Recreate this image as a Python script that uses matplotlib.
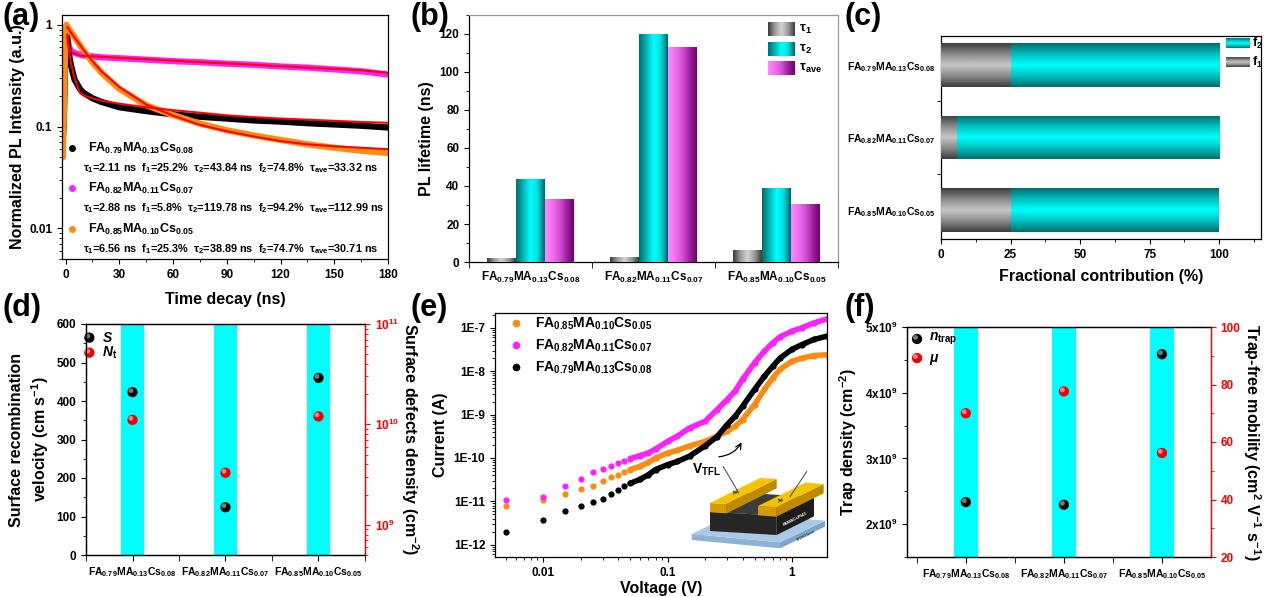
import numpy as np
import matplotlib
matplotlib.use('Agg')
import matplotlib.pyplot as plt
from matplotlib.colors import LinearSegmentedColormap
from matplotlib.patches import Polygon
from matplotlib.lines import Line2D
from matplotlib.ticker import MultipleLocator, FuncFormatter, LogLocator, NullFormatter, FixedLocator
from matplotlib.transforms import offset_copy

plt.rcParams['font.family'] = ['Liberation Sans', 'DejaVu Sans']
plt.rcParams['font.weight'] = 'bold'
plt.rcParams['axes.labelweight'] = 'bold'
plt.rcParams['mathtext.fontset'] = 'custom'
plt.rcParams['mathtext.rm'] = 'Liberation Sans:bold'
plt.rcParams['mathtext.it'] = 'Liberation Sans:italic:bold'
plt.rcParams['mathtext.bf'] = 'Liberation Sans:bold'
plt.rcParams['mathtext.default'] = 'regular'
plt.rcParams['xtick.direction'] = 'out'
plt.rcParams['ytick.direction'] = 'out'
plt.rcParams['xtick.labelsize'] = 8.5
plt.rcParams['ytick.labelsize'] = 8.5
plt.rcParams['axes.linewidth'] = 0.9

# ---------------- data ----------------
comp = ['FA$_{0.79}$MA$_{0.13}$Cs$_{0.08}$',
        'FA$_{0.82}$MA$_{0.11}$Cs$_{0.07}$',
        'FA$_{0.85}$MA$_{0.10}$Cs$_{0.05}$']

# (a) TRPL decays
t_ns = [-1.5, -1, -0.5, 0, 0.5, 1, 2, 3, 5, 8, 10, 15, 20, 30, 45, 60, 75, 90,
        105, 120, 135, 150, 165, 180]
pl_079 = [0.08, 0.1, 0.3, 0.8, 0.9, 0.7, 0.5, 0.4, 0.29, 0.235, 0.215, 0.19, 0.175,
          0.155, 0.142, 0.132, 0.125, 0.12, 0.115, 0.112, 0.108, 0.105, 0.102, 0.098]
pl_082 = [0.1, 0.15, 0.4, 0.85, 0.95, 0.75, 0.6, 0.56, 0.53, 0.51, 0.5, 0.49, 0.48,
          0.47, 0.455, 0.44, 0.43, 0.415, 0.405, 0.39, 0.38, 0.365, 0.35, 0.325]
pl_085 = [0.05, 0.12, 0.35, 0.85, 1.0, 0.97, 0.9, 0.85, 0.76, 0.63, 0.56, 0.43, 0.34,
          0.235, 0.162, 0.13, 0.107, 0.092, 0.082, 0.074, 0.067, 0.062, 0.058, 0.055]
t_fit = [1, 2, 3, 5, 8, 10, 15, 20, 30, 45, 60, 75, 90, 105, 120, 135, 150, 165, 180]
fit_079 = [0.75, 0.55, 0.42, 0.3, 0.215, 0.203, 0.19, 0.18, 0.168, 0.155, 0.145, 0.137,
           0.129, 0.124, 0.12, 0.117, 0.114, 0.111, 0.109]
fit_082 = [0.8, 0.6, 0.55, 0.52, 0.5, 0.495, 0.49, 0.485, 0.475, 0.46, 0.445, 0.43,
           0.418, 0.405, 0.393, 0.38, 0.37, 0.358, 0.338]
fit_085 = [0.95, 0.9, 0.84, 0.75, 0.64, 0.57, 0.44, 0.35, 0.245, 0.165, 0.128, 0.104,
           0.09, 0.08, 0.072, 0.067, 0.064, 0.062, 0.06]

# (b), (c) fit parameters
tau1 = [2.11, 2.88, 6.56]
tau2 = [43.84, 119.78, 38.89]
tau_ave = [33.32, 112.99, 30.71]
f1 = [25.2, 5.8, 25.3]
f2 = [74.8, 94.2, 74.7]

# (d)
S = [423, 124, 460]
Nt = [1.11e10, 3.3e9, 1.2e10]

# (e) SCLC
voltage = [0.005, 0.01, 0.015, 0.02, 0.025, 0.03, 0.035, 0.04, 0.045, 0.05, 0.06, 0.07,
           0.08, 0.1, 0.12, 0.15, 0.2, 0.25, 0.3, 0.35, 0.4, 0.5, 0.6, 0.7, 0.8, 1.0,
           1.2, 1.5, 1.9]
I_079 = [2.0e-12, 3.8e-12, 6.1e-12, 7.9e-12, 9.5e-12, 1.13e-11, 1.5e-11, 1.85e-11,
         2.2e-11, 2.6e-11, 3.2e-11, 4.1e-11, 5.4e-11, 7.0e-11, 8.3e-11, 1.1e-10,
         1.9e-10, 3.1e-10, 5.8e-10, 9.2e-10, 1.55e-9, 3.8e-9, 7.7e-9, 1.3e-8, 2.0e-8,
         3.2e-8, 4.1e-8, 5.4e-8, 6.4e-8]
I_082 = [1.1e-11, 1.26e-11, 2.2e-11, 3.2e-11, 4.7e-11, 5.6e-11, 6.6e-11, 7.7e-11,
         8.7e-11, 9.7e-11, 1.13e-10, 1.3e-10, 1.6e-10, 2.4e-10, 3.2e-10, 4.9e-10,
         7.0e-10, 1.3e-9, 2.2e-9, 3.5e-9, 6.5e-9, 1.56e-8, 2.9e-8, 4.5e-8, 6.2e-8,
         8.4e-8, 1.0e-7, 1.3e-7, 1.6e-7]
I_085 = [7.7e-12, 1.1e-11, 1.5e-11, 1.93e-11, 2.2e-11, 3.0e-11, 3.6e-11, 4.1e-11,
         4.8e-11, 5.4e-11, 6.4e-11, 7.9e-11, 1.0e-10, 1.3e-10, 1.5e-10, 1.9e-10,
         2.4e-10, 3.2e-10, 4.1e-10, 5.4e-10, 7.7e-10, 1.7e-9, 3.8e-9, 7.0e-9, 1.1e-8,
         1.7e-8, 2.0e-8, 2.3e-8, 2.4e-8]

# (f)
n_trap = [2.335e9, 2.295e9, 4.585e9]
mu = [70.0, 77.6, 56.2]

BLACK, MAGENTA, ORANGE = '#000000', '#ff22ff', '#ff8c10'
CYAN = '#00ffff'
gray_grad = ['#3a3a3a', '#9a9a9a', '#d4d4d4', '#9a9a9a', '#3a3a3a']
teal_grad = ['#006c6c', '#00b4b4', '#00ffff', '#00dede', '#006464']
mag_grad = ['#ff88ff', '#f070f0', '#d650d6', '#a020a0', '#6e006e']


def grad_rect(ax, x0, y0, w, h, colors, along='x', transform=None, clip=None, z=3):
    cmap = LinearSegmentedColormap.from_list('g', colors)
    g = np.linspace(0, 1, 128)
    img = g.reshape(1, -1) if along == 'x' else g.reshape(-1, 1)
    kw = {} if transform is None else {'transform': transform}
    im = ax.imshow(img, cmap=cmap, extent=[x0, x0 + w, y0, y0 + h], origin='lower',
                   aspect='auto', interpolation='bicubic', zorder=z, **kw)
    if clip is not None:
        im.set_clip_path(clip)
    return im


def sphere(ax, x, y, base, light, s=55, transform=None, clip=True):
    tr = ax.transData if transform is None else transform
    ax.scatter(x, y, s=s, color=base, edgecolors='none', transform=tr, zorder=5,
               clip_on=clip)
    ax.scatter(x, y, s=s * 0.22, color=light, edgecolors='none', alpha=0.75,
               transform=offset_copy(tr, fig=ax.figure, x=-1.1, y=1.1, units='points'),
               zorder=6, clip_on=clip)


def px_axes(fig, l, r, t, b):
    W, H = 1267, 597
    return fig.add_axes([l / W, 1 - b / H, (r - l) / W, (b - t) / H])


fig = plt.figure(figsize=(12.67, 5.97), dpi=100)

# ---------------- (a) ----------------
ax = px_axes(fig, 62, 388, 15, 259)
ax.plot(t_ns, pl_082, color=MAGENTA, lw=4.5, solid_capstyle='round')
ax.plot(t_ns, pl_079, color=BLACK, lw=4.5, solid_capstyle='round')
ax.plot(t_ns, pl_085, color=ORANGE, lw=4.5, solid_capstyle='round')
for f in (fit_082, fit_079, fit_085):
    ax.plot(t_fit, f, color='red', lw=1.5)
ax.set_yscale('log')
ax.set_ylim(0.005, 1.25)
ax.set_xlim(-2, 180)
ax.xaxis.set_major_locator(MultipleLocator(30))
ax.xaxis.set_minor_locator(MultipleLocator(15))
ax.yaxis.set_major_formatter(FuncFormatter(lambda v, p: f'{v:g}'))
ax.yaxis.set_minor_formatter(NullFormatter())
ax.set_xlabel('Time decay (ns)', fontsize=11.5, labelpad=8)
ax.set_ylabel('Normalized PL Intensity (a.u.)', fontsize=11.5, labelpad=3)
rows = [0.455, 0.291, 0.123]
for i, c in enumerate([BLACK, MAGENTA, ORANGE]):
    ax.plot([0.031], [rows[i]], 'o', color=c, ms=4, transform=ax.transAxes)
    ax.text(0.08, rows[i], comp[i], transform=ax.transAxes, fontsize=9, va='center')
    s = (f'τ$_1$={tau1[i]} ns  f$_1$={f1[i]}%  τ$_2$={tau2[i]} ns  '
         f'f$_2$={f2[i]}%  τ$_{{ave}}$={tau_ave[i]} ns')
    ax.text(0.065, rows[i] - 0.082, s, transform=ax.transAxes, fontsize=7.8, va='center')

# ---------------- (b) ----------------
ax = px_axes(fig, 469, 838, 15, 262)
x = np.arange(3)
w = 0.235
for vals, off, grad in ((tau1, -w, gray_grad), (tau2, 0, teal_grad), (tau_ave, w, mag_grad)):
    bars = ax.bar(x + off, vals, width=w, color='none', edgecolor='none')
    for b in bars:
        grad_rect(ax, b.get_x(), b.get_y(), b.get_width(), b.get_height(), grad, clip=b)
ax.set_xticks(x)
ax.set_xticklabels(comp, fontsize=8.5)
ax.tick_params(axis='x', which='major', length=0, pad=6)
ax.xaxis.set_minor_locator(FixedLocator([-0.5, 0.5, 1.5, 2.5]))
ax.tick_params(axis='x', which='minor', length=4)
ax.yaxis.set_major_locator(MultipleLocator(20))
ax.yaxis.set_minor_locator(MultipleLocator(10))
ax.set_ylabel('PL lifetime (ns)', fontsize=11.5)
for sp in ('top', 'right'):
    ax.spines[sp].set_color('#999999')
leg_y = [0.941, 0.862, 0.783]
for lab, yy, grad in zip(['τ$_1$', 'τ$_2$', 'τ$_{ave}$'], leg_y, [gray_grad, teal_grad, mag_grad]):
    grad_rect(ax, 0.81, yy - 0.027, 0.073, 0.054, grad, transform=ax.transAxes, z=4)
    ax.text(0.893, yy, lab, transform=ax.transAxes, fontsize=9.5, va='center')
ax.set_xlim(-0.5, 2.5)
ax.set_ylim(0, 130)

# ---------------- (c) ----------------
ax = px_axes(fig, 941, 1261, 36, 239)
yc = np.array([2, 1, 0])
h = 0.6
gray_h = ['#3c3c3c', '#8a8a8a', '#c8c8c8', '#8a8a8a', '#3c3c3c']
cyan_h = ['#006e6e', '#00c0c0', '#00ffff', '#00c0c0', '#006e6e']
bars1 = ax.barh(yc, f1, height=h, color='none', edgecolor='none')
bars2 = ax.barh(yc, f2, left=f1, height=h, color='none', edgecolor='none')
for b in bars1:
    grad_rect(ax, b.get_x(), b.get_y(), b.get_width(), b.get_height(), gray_h, along='y', clip=b)
for b in bars2:
    grad_rect(ax, b.get_x(), b.get_y(), b.get_width(), b.get_height(), cyan_h, along='y', clip=b)
ax.set_yticks(yc)
ax.set_yticklabels(comp, fontsize=7.5)
ax.tick_params(axis='y', which='major', length=0, pad=4)
ax.yaxis.set_minor_locator(FixedLocator([0.5, 1.5]))
ax.tick_params(axis='y', which='minor', length=3)
ax.xaxis.set_major_locator(MultipleLocator(25))
ax.xaxis.set_minor_locator(MultipleLocator(12.5))
ax.set_xlabel('Fractional contribution (%)', fontsize=11.5, labelpad=6)
for lab, yy, grad in (('f$_2$', 0.963, cyan_h), ('f$_1$', 0.869, gray_h)):
    grad_rect(ax, 0.891, yy - 0.024, 0.075, 0.048, grad, along='y',
              transform=ax.transAxes, z=4)
    ax.text(0.971, yy, lab, transform=ax.transAxes, fontsize=9, va='center', zorder=7)
ax.set_xlim(0, 115)
ax.set_ylim(-0.4, 2.4)

# ---------------- (d) ----------------
ax = px_axes(fig, 86, 365, 324, 555)
for xi in x:
    ax.axvspan(xi - 0.12, xi + 0.12, color=CYAN, lw=0, zorder=0)
ax.set_xlim(-0.5, 2.5)
ax.set_ylim(0, 600)
ax.set_xticks(x)
ax.set_xticklabels(comp, fontsize=7.5)
ax.xaxis.set_minor_locator(FixedLocator([-0.5, 0.5, 1.5, 2.5]))
ax.tick_params(axis='x', which='both', length=4)
ax.yaxis.set_major_locator(MultipleLocator(100))
ax.yaxis.set_minor_locator(MultipleLocator(50))
ax.set_ylabel('Surface recombination\nvelocity (cm s$^{-1}$)', fontsize=11.5, linespacing=1.3)
sphere(ax, x, S, '#050505', '#a0a0a0')
ax2 = ax.twinx()
ax2.set_yscale('log')
ax2.set_ylim(5e8, 1e11)
sphere(ax2, x, Nt, '#ee0000', '#ffb0b0')
ax2.spines['right'].set_color('red')
ax2.tick_params(axis='y', which='both', colors='red', labelsize=8.5)
ax2.yaxis.set_minor_formatter(NullFormatter())
ax2.set_ylabel('Surface defects density (cm$^{-2}$)', fontsize=11.5, rotation=270, labelpad=16)
sphere(ax, [0.012], [0.941], '#050505', '#a0a0a0', transform=ax.transAxes, clip=False)
sphere(ax, [0.012], [0.876], '#ee0000', '#ffb0b0', transform=ax.transAxes, clip=False)
ax.text(0.057, 0.941, r'$\it{S}$', transform=ax.transAxes, fontsize=10, va='center')
ax.text(0.057, 0.876, r'$\it{N}_{\rm t}$', transform=ax.transAxes, fontsize=10, va='center')

# ---------------- (e) ----------------
ax = px_axes(fig, 495, 827, 313, 557)
for I, c in ((I_085, ORANGE), (I_082, MAGENTA), (I_079, BLACK)):
    ax.plot(voltage[9:], I[9:], color=c, lw=4, solid_capstyle='round')
    ax.plot(voltage, I, 'o', color=c, ms=4.5, mec='none')
ax.set_xscale('log')
ax.set_yscale('log')
ax.set_xlim(0.0041, 1.91)
ax.set_ylim(5.2e-13, 2.2e-7)
ax.yaxis.set_major_locator(LogLocator(base=10, numticks=20))
ax.yaxis.set_major_formatter(FuncFormatter(lambda v, p: f'1E{int(round(np.log10(v)))}'))
ax.yaxis.set_minor_formatter(NullFormatter())
ax.xaxis.set_major_formatter(FuncFormatter(lambda v, p: f'{v:g}'))
ax.xaxis.set_minor_formatter(NullFormatter())
ax.set_xlabel('Voltage (V)', fontsize=11.5, labelpad=2)
ax.set_ylabel('Current (A)', fontsize=11.5)
handles = [Line2D([], [], ls='none', marker='o', color=c, ms=4.5)
           for c in (ORANGE, MAGENTA, BLACK)]
ax.legend(handles, [comp[2], comp[1], comp[0]], loc='upper left', frameon=False,
          fontsize=10, handlelength=1.2, handletextpad=0.8, labelspacing=0.4,
          bbox_to_anchor=(0.0, 1.04))
ax.text(0.593, 0.357, r'V$_{\rm TFL}$', transform=ax.transAxes, fontsize=10, va='center')
ax.annotate('', xy=(0.747, 0.48), xytext=(0.666, 0.41), xycoords='axes fraction',
            arrowprops=dict(arrowstyle='->', color='k', lw=0.9,
                            connectionstyle='arc3,rad=0.3'))

# device sketch inset
ins = fig.add_axes([680 / 1267, 1 - 555 / 597, 150 / 1267, 100 / 597])
ins.set_xlim(0, 450)
ins.set_ylim(300, 0)
ins.axis('off')


def box(axi, P, A, B, hgt, ctop, cfront, cside):
    P, A, B = np.array(P, float), np.array(A, float), np.array(B, float)
    up = np.array([0, -hgt])
    front = [P, P + A, P + A + up, P + up]
    side = [P + A, P + A + B, P + A + B + up, P + A + up]
    top = [P + up, P + A + up, P + A + B + up, P + B + up]
    for pts, col in ((front, cfront), (side, cside), (top, ctop)):
        axi.add_patch(Polygon(pts, closed=True, facecolor=col, edgecolor='none'))


box(ins, (35, 255), (265, 25), (135, -65), 18, '#a9c9e6', '#8fb3d6', '#7ea5cb')
box(ins, (90, 228), (200, 12), (112, -56), 58, '#3c3c3c', '#262626', '#1c1c1c')
box(ins, (90, 172), (50, 3), (150, -75), 28, '#f5c400', '#d49c00', '#c08a00')
box(ins, (234, 181), (55, 4), (142, -70), 28, '#f5c400', '#d49c00', '#c08a00')
ins.plot([175, 130], [112, 35], color='#555555', lw=0.8)
ins.plot([330, 380], [125, 50], color='#555555', lw=0.8)
ins.text(168, 113, 'Au', fontsize=3.5, rotation=27, ha='center', va='center', color='#333333')
ins.text(303, 135, 'Au', fontsize=3.5, rotation=27, ha='center', va='center', color='#333333')
ins.text(345, 192, 'FAMACsPbI3', fontsize=3.2, rotation=27, ha='center', va='center', color='white')
ins.text(378, 242, 'ITO/Glass', fontsize=3.2, rotation=27, ha='center', va='center', color='#333333')

# ---------------- (f) ----------------
ax = px_axes(fig, 907, 1211, 327, 557)
for xi in x:
    ax.axvspan(xi - 0.12, xi + 0.12, color=CYAN, lw=0, zorder=0)
ax.set_xlim(-0.6, 2.5)
ax.set_ylim(1.5e9, 5e9)
ax.set_xticks(x)
ax.set_xticklabels(comp, fontsize=7.5)
ax.xaxis.set_minor_locator(FixedLocator([-0.5, 0.5, 1.5]))
ax.tick_params(axis='x', which='both', length=4)
ax.yaxis.set_major_locator(MultipleLocator(1e9))
ax.yaxis.set_minor_locator(MultipleLocator(0.5e9))
ax.yaxis.set_major_formatter(FuncFormatter(lambda v, p: f'{v / 1e9:.0f}x10$^9$'))
ax.set_ylabel('Trap density (cm$^{-2}$)', fontsize=11.5)
sphere(ax, x, n_trap, '#050505', '#a0a0a0')
ax2 = ax.twinx()
ax2.set_ylim(20, 100)
sphere(ax2, x, mu, '#ee0000', '#ffb0b0')
ax2.yaxis.set_major_locator(MultipleLocator(20))
ax2.yaxis.set_minor_locator(MultipleLocator(10))
ax2.spines['right'].set_color('red')
ax2.tick_params(axis='y', which='both', colors='red', labelsize=8.5)
ax2.set_ylabel('Trap-free mobility (cm$^2$ V$^{-1}$ s$^{-1}$)', fontsize=11.5,
               rotation=270, labelpad=16)
sphere(ax, [0.033], [0.948], '#050505', '#a0a0a0', transform=ax.transAxes, clip=False)
sphere(ax, [0.033], [0.865], '#ee0000', '#ffb0b0', transform=ax.transAxes, clip=False)
ax.text(0.072, 0.948, r'$\it{n}_{\rm trap}$', transform=ax.transAxes, fontsize=10, va='center')
ax.text(0.072, 0.865, 'μ', style='italic', transform=ax.transAxes, fontsize=10, va='center')

# panel letters
for lab, (px, py) in zip('abcdef', [(2, 2), (410, 2), (845, 2), (2, 293), (410, 293), (845, 293)]):
    fig.text(px / 1267, 1 - py / 597, f'({lab})', fontsize=22, fontweight='bold',
             ha='left', va='top')

fig.savefig('out.png', dpi=100)
